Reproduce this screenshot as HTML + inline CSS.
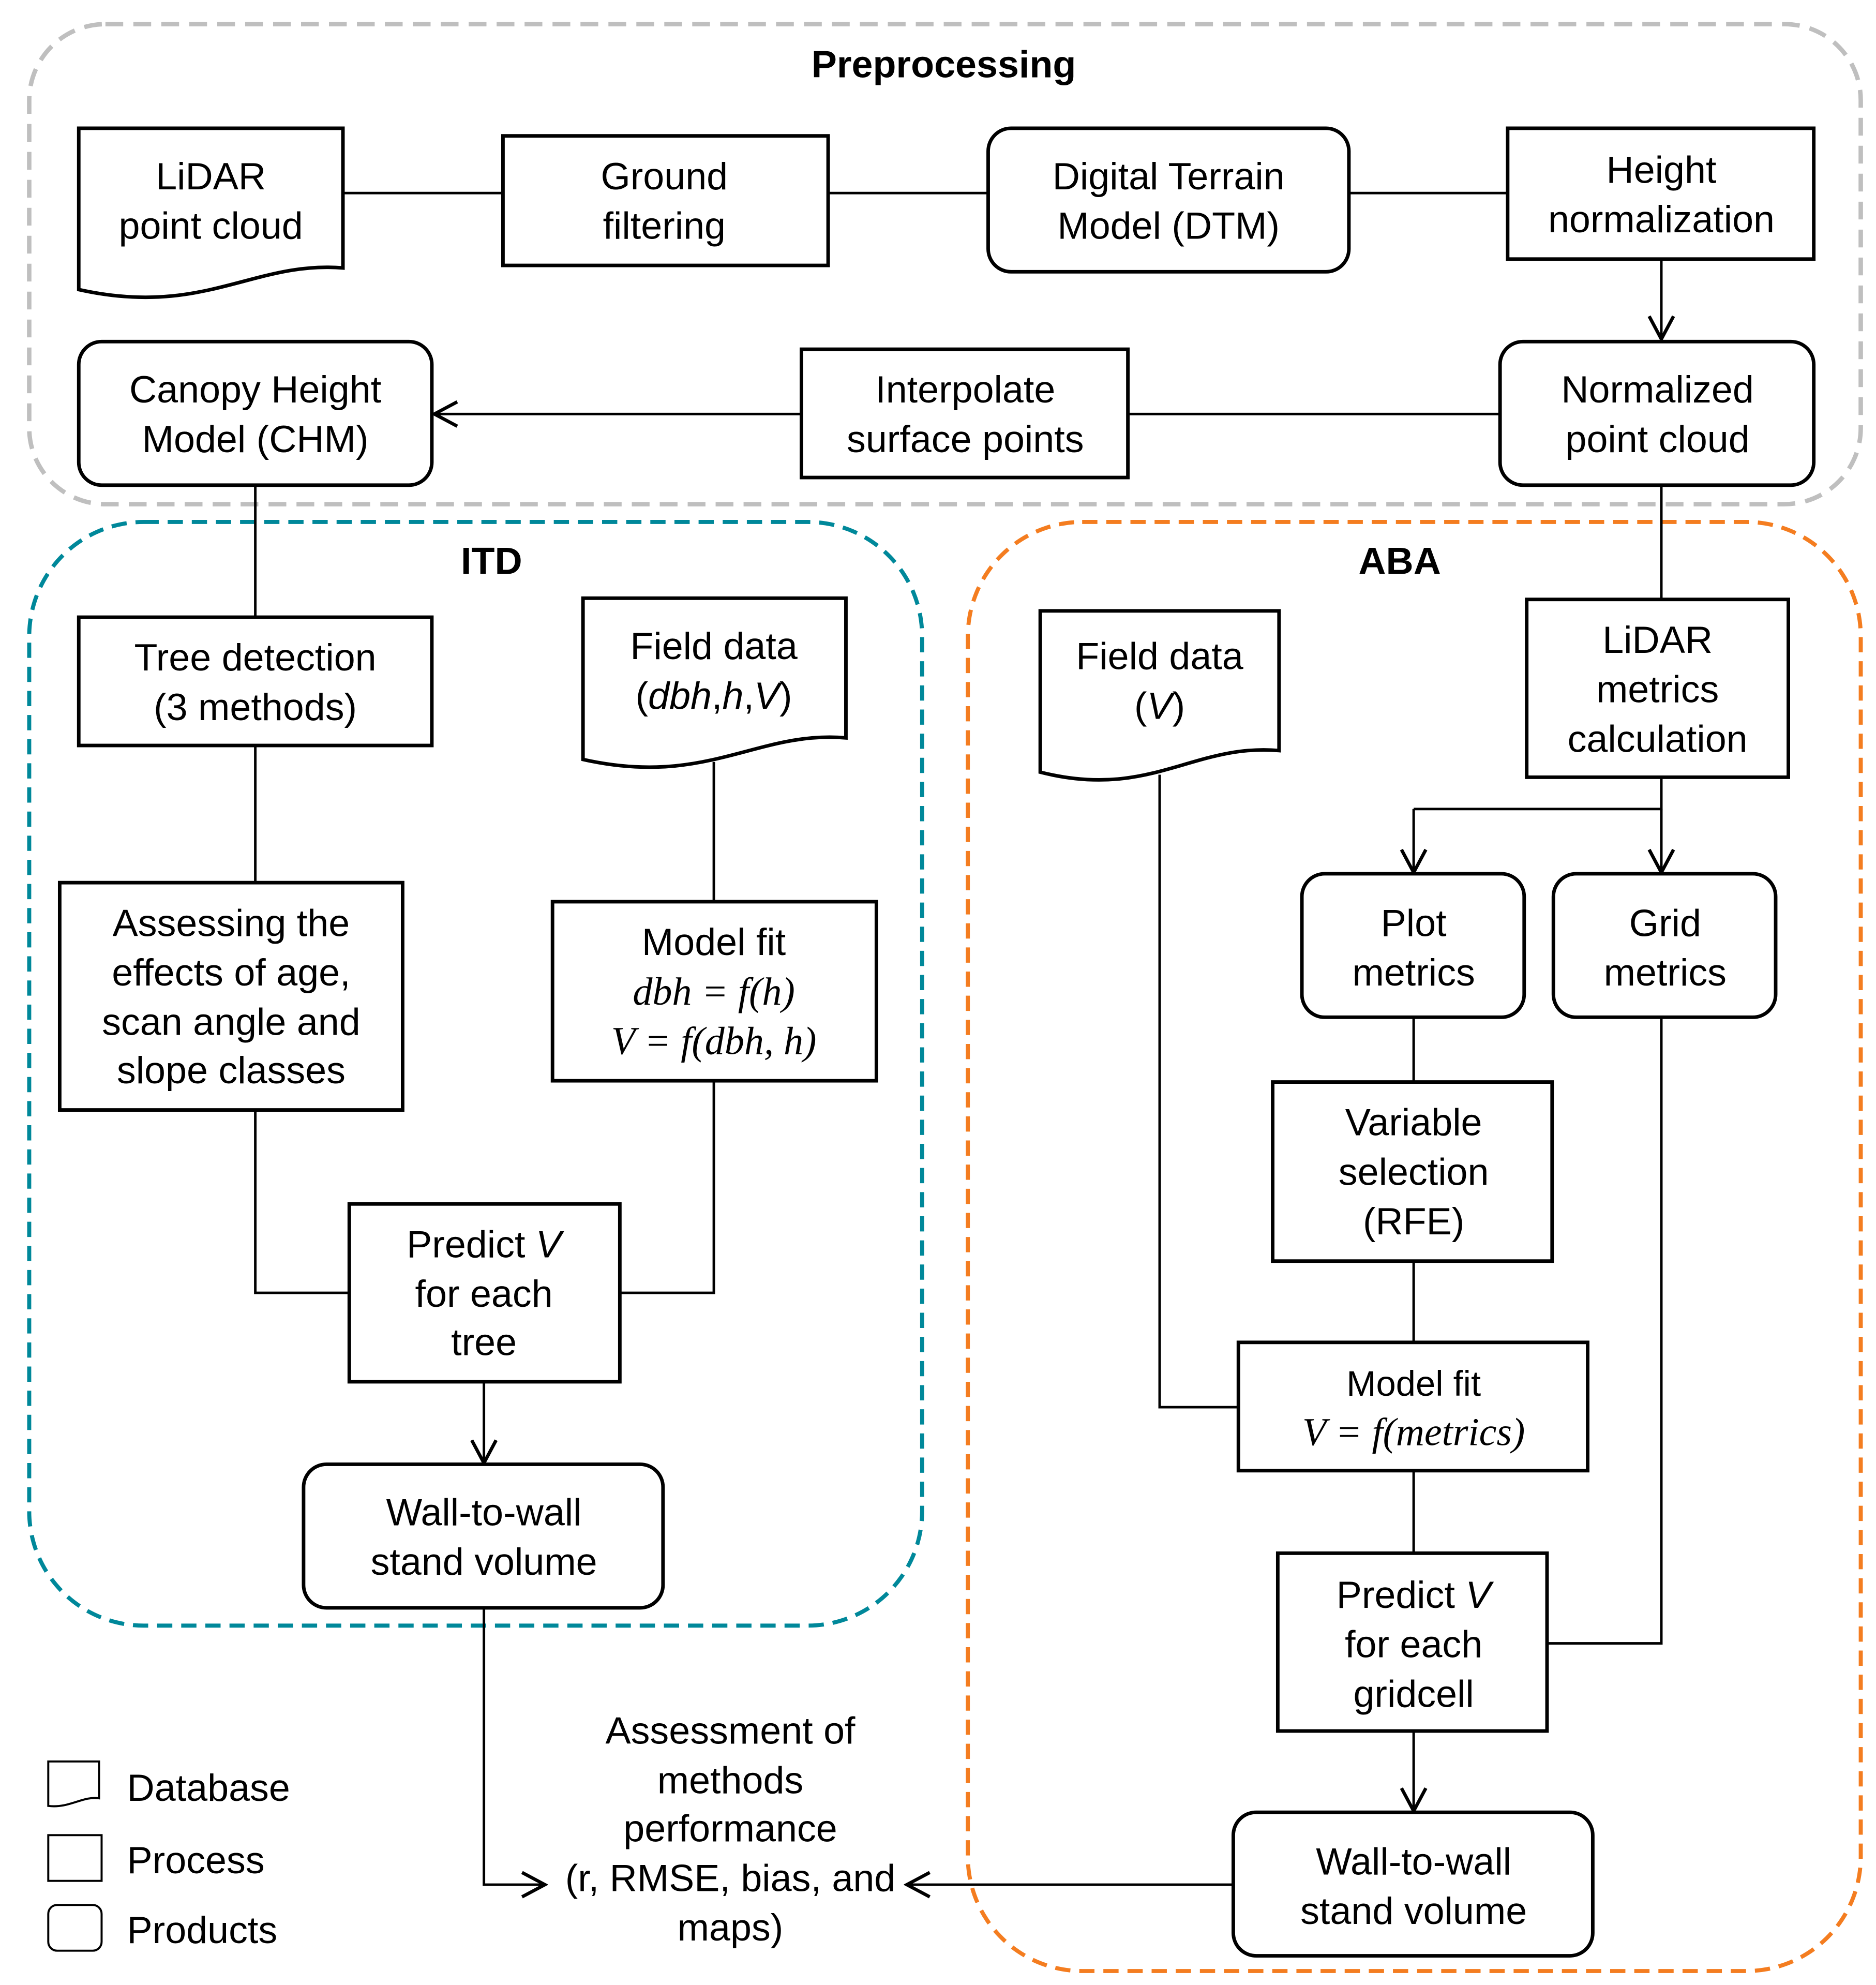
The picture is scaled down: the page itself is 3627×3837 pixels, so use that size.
<!DOCTYPE html>
<html><head><meta charset="utf-8"><style>
html,body{margin:0;padding:0;background:#fff;}
svg{display:block;}
text{font-family:"Liberation Sans",sans-serif;font-size:30px;fill:#000;text-anchor:middle;}
.m{font-family:"Liberation Serif",serif;font-style:italic;font-size:31px;}
.b{stroke:#000;stroke-width:2.8;fill:#fff;}
.l{stroke:#000;stroke-width:2;fill:none;}
</style></head><body>
<svg width="3627" height="3837" viewBox="0 0 1477 1563" preserveAspectRatio="none" xmlns="http://www.w3.org/2000/svg">
<defs><marker id="a" viewBox="0 0 20 20" refX="18" refY="10" markerWidth="24" markerHeight="24" markerUnits="userSpaceOnUse" orient="auto"><path d="M3,2 L18,10 L3,18" fill="none" stroke="#000" stroke-width="2.2"/></marker></defs>
<rect x="23" y="19" width="1442" height="378" rx="60" fill="none" stroke="#bfbfbf" stroke-width="3.5" stroke-dasharray="14 8"/>
<rect x="23" y="411" width="703" height="869" rx="90" fill="none" stroke="#00889a" stroke-width="3.2" stroke-dasharray="12 7"/>
<rect x="762" y="411" width="703" height="1141" rx="90" fill="none" stroke="#f47d20" stroke-width="3.2" stroke-dasharray="12 7"/>
<text x="743" y="61" style="font-weight:bold">Preprocessing</text>
<text x="387" y="452" style="font-weight:bold">ITD</text>
<text x="1102" y="452" style="font-weight:bold">ABA</text>
<path class="l" d="M270,152H396M652,152H778M1062,152H1187"/>
<path class="l" d="M1308,204V267" marker-end="url(#a)"/>
<path class="l" d="M888,326H1181"/>
<path class="l" d="M631,326H342" marker-end="url(#a)"/>
<path class="l" d="M201,382V486M201,587V695M562,600V710M201,874V1018H275M562,851V1018H488"/>
<path class="l" d="M381,1088V1152" marker-end="url(#a)"/>
<path class="l" d="M381,1266V1484H429" marker-end="url(#a)"/>
<path class="l" d="M1308,382V472M1308,612V637H1113"/>
<path class="l" d="M1113,637V687" marker-end="url(#a)"/>
<path class="l" d="M1308,637V687" marker-end="url(#a)"/>
<path class="l" d="M1113,801V852M1113,993V1057M913,610V1108H975M1113,1158V1223M1308,801V1294H1218"/>
<path class="l" d="M1113,1363V1426" marker-end="url(#a)"/>
<path class="l" d="M971,1484H714" marker-end="url(#a)"/>
<path class="b" d="M62,101H270V211C200,205 160,250 62,228Z"/>
<text x="166" y="149">LiDAR</text><text x="166" y="188">point cloud</text>
<rect class="b" x="396" y="107" width="256" height="102"/>
<text x="523" y="149">Ground</text><text x="523" y="188">filtering</text>
<rect class="b" x="778" y="101" width="284" height="113" rx="18"/>
<text x="920" y="149">Digital Terrain</text><text x="920" y="188">Model (DTM)</text>
<rect class="b" x="1187" y="101" width="241" height="103"/>
<text x="1308" y="144">Height</text><text x="1308" y="183">normalization</text>
<rect class="b" x="1181" y="269" width="247" height="113" rx="18"/>
<text x="1305" y="317">Normalized</text><text x="1305" y="356">point cloud</text>
<rect class="b" x="631" y="275" width="257" height="101"/>
<text x="760" y="317">Interpolate</text><text x="760" y="356">surface points</text>
<rect class="b" x="62" y="269" width="278" height="113" rx="18"/>
<text x="201" y="317">Canopy Height</text><text x="201" y="356">Model (CHM)</text>
<rect class="b" x="62" y="486" width="278" height="101"/>
<text x="201" y="528">Tree detection</text><text x="201" y="567">(3 methods)</text>
<rect class="b" x="47" y="695" width="270" height="179"/>
<text x="182" y="737">Assessing the</text><text x="182" y="776">effects of age,</text><text x="182" y="815">scan angle and</text><text x="182" y="853">slope classes</text>
<path class="b" d="M459,471H666V581C596,575 556,620 459,598Z"/>
<text x="562" y="519">Field data</text><text x="562" y="558">(<tspan font-style="italic">dbh</tspan>,<tspan font-style="italic">h</tspan>,<tspan font-style="italic">V</tspan>)</text>
<rect class="b" x="435" y="710" width="255" height="141"/>
<text x="562" y="752">Model fit</text><text class="m" x="562" y="791">dbh = f(h)</text><text class="m" x="562" y="830">V = f(dbh, h)</text>
<rect class="b" x="275" y="948" width="213" height="140"/>
<text x="381" y="990">Predict <tspan font-style="italic">V</tspan></text><text x="381" y="1029">for each</text><text x="381" y="1067">tree</text>
<rect class="b" x="239" y="1153" width="283" height="113" rx="18"/>
<text x="381" y="1201">Wall-to-wall</text><text x="381" y="1240">stand volume</text>
<text x="575" y="1373">Assessment of</text><text x="575" y="1412">methods</text><text x="575" y="1450">performance</text><text x="575" y="1489">(r, RMSE, bias, and</text><text x="575" y="1528">maps)</text>
<rect class="b" x="1202" y="472" width="206" height="140"/>
<text x="1305" y="514">LiDAR</text><text x="1305" y="553">metrics</text><text x="1305" y="592">calculation</text>
<path class="b" d="M819,481H1007V591C940,585 905,630 819,608Z"/>
<text x="913" y="527">Field data</text><text x="913" y="566">(<tspan font-style="italic">V</tspan>)</text>
<rect class="b" x="1025" y="688" width="175" height="113" rx="18"/>
<text x="1113" y="737">Plot</text><text x="1113" y="776">metrics</text>
<rect class="b" x="1223" y="688" width="175" height="113" rx="18"/>
<text x="1311" y="737">Grid</text><text x="1311" y="776">metrics</text>
<rect class="b" x="1002" y="852" width="220" height="141"/>
<text x="1113" y="894">Variable</text><text x="1113" y="933">selection</text><text x="1113" y="972">(RFE)</text>
<rect class="b" x="975" y="1057" width="275" height="101"/>
<text x="1113" y="1099" style="font-size:28px">Model fit</text><text class="m" x="1113" y="1138">V = f(metrics)</text>
<rect class="b" x="1006" y="1223" width="212" height="140"/>
<text x="1113" y="1266">Predict <tspan font-style="italic">V</tspan></text><text x="1113" y="1305">for each</text><text x="1113" y="1344">gridcell</text>
<rect class="b" x="971" y="1427" width="283" height="113" rx="18"/>
<text x="1113" y="1476">Wall-to-wall</text><text x="1113" y="1515">stand volume</text>
<path class="l" style="stroke-width:1.6" d="M38,1387H78V1416C65,1414 55,1424 38,1422Z"/>
<text x="100" y="1418" style="text-anchor:start">Database</text>
<rect class="l" style="stroke-width:1.6" x="38" y="1445" width="42" height="36"/>
<text x="100" y="1475" style="text-anchor:start">Process</text>
<rect class="l" style="stroke-width:1.6" x="38" y="1500" width="42" height="36" rx="7"/>
<text x="100" y="1530" style="text-anchor:start">Products</text>
</svg>
</body></html>
